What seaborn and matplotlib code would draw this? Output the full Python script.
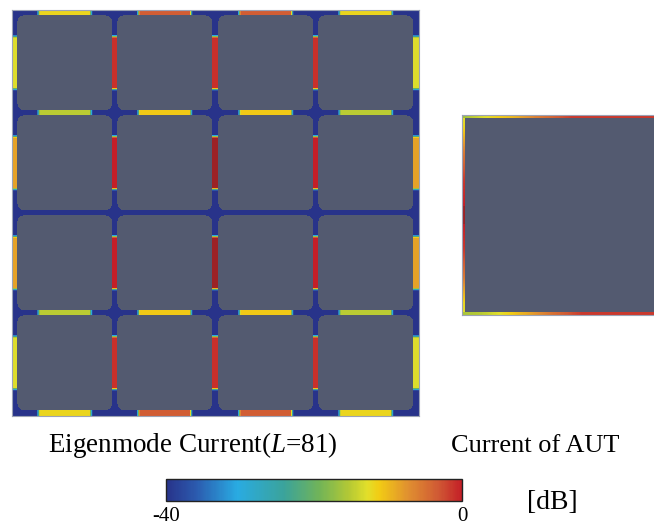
import numpy as np
import matplotlib
matplotlib.use("Agg")
import matplotlib.pyplot as plt
import seaborn as sns
from matplotlib.colors import LinearSegmentedColormap

# ---------------- data (current magnitude, dB) ----------------
# horizontal edge strips: 5 edge rows (top -> bottom) x 4 patch columns
h_edge_row0 = [-12, -3.5, -3.5, -12]
h_edge_row1 = [-15, -11, -11, -15]
h_edge_row2 = [-40, -40, -40, -40]
h_edge_row3 = [-15, -11, -11, -15]
h_edge_row4 = [-12, -3.5, -3.5, -12]
# vertical edge strips: 4 patch rows x 5 edge columns (left -> right)
v_edge_row0 = [-13, -1, -1, -1, -13]
v_edge_row1 = [-8.5, 0, 0.5, 0, -8.5]
v_edge_row2 = [-8.5, 0, 0.5, 0, -8.5]
v_edge_row3 = [-13, -1, -1, -1, -13]

# AUT edge current profiles (position along edge 0..1, dB)
aut_top_pos = [0, 0.05, 0.15, 0.25, 0.37, 0.55, 1.0]
aut_top_db = [-17, -15, -12, -10, -6, -1.5, -1.5]
aut_bottom_pos = [0, 0.10, 0.22, 0.32, 0.45, 0.60, 1.0]
aut_bottom_db = [-16, -15, -12, -9, -5, -1.5, -1.5]
aut_left_pos = [0, 0.06, 0.18, 0.32, 0.5, 0.68, 0.82, 0.94, 1.0]
aut_left_db = [-13, -12, -6, -1.5, 0.5, -1.5, -6, -12, -13]
aut_right_pos = [0, 0.06, 0.18, 0.32, 0.5, 0.68, 0.82, 0.94, 1.0]
aut_right_db = [-13, -12, -6, -1.5, 0.5, -1.5, -6, -12, -13]

db_min, db_max = -40, 0
left_title = "Eigenmode Current($L$=81)"
right_title = "Current of AUT"
unit_label = "[dB]"
cbar_ticks = [-40, 0]
cbar_ticklabels = ["-40", "0"]

# ---------------- styling ----------------
cmap_pos = [0.0, 0.10, 0.24, 0.40, 0.52, 0.62, 0.68, 0.72, 0.82, 0.92, 1.0]
cmap_cols = ["#28338a", "#2b5aae", "#29abe2", "#3ba39a", "#72b457", "#b5c934",
             "#e2df2a", "#f2cc14", "#e08f30", "#d05a34", "#c41f27"]
cmap = LinearSegmentedColormap.from_list("cem", list(zip(cmap_pos, cmap_cols)))
cmap.set_over("#9c2226")
patch_gray = "#535a70"

plt.rcParams["font.family"] = ["Liberation Serif", "DejaVu Serif"]
plt.rcParams["mathtext.fontset"] = "custom"
plt.rcParams["mathtext.rm"] = "Liberation Serif"
plt.rcParams["mathtext.it"] = "Liberation Serif:italic"

W, H = 654, 528
fig = plt.figure(figsize=(W / 100, H / 100), dpi=100)

def frac_rect(x0, y0, w, h):
    return [x0 / W, 1 - (y0 + h) / H, w / W, h / H]

# ---------------- left panel: 4x4 array ----------------
h_edges = [h_edge_row0, h_edge_row1, h_edge_row2, h_edge_row3, h_edge_row4]
v_edges = [v_edge_row0, v_edge_row1, v_edge_row2, v_edge_row3]

N = 406
m, P, pitch, rad = 5.5, 94.5, 100.0, 6.0
half, ramp = 28.0, 3.0
cc = np.arange(N) + 0.5
X, Y = np.meshgrid(cc, cc)
starts = m + pitch * np.arange(4)
ends = starts + P
centers = (starts + ends) / 2

def in_rounded(X, Y, x0, x1, y0, y1, r):
    dx = np.maximum(np.maximum(x0 + r - X, X - (x1 - r)), 0)
    dy = np.maximum(np.maximum(y0 + r - Y, Y - (y1 - r)), 0)
    box = (X >= x0) & (X <= x1) & (Y >= y0) & (Y <= y1)
    return box & (dx ** 2 + dy ** 2 <= r ** 2)

grid = np.full((N, N), float(db_min))
mask = np.zeros((N, N), bool)
for i in range(4):
    for j in range(4):
        mask |= in_rounded(X, Y, starts[j], ends[j], starts[i], ends[i], rad)

band_lo = [0] + list(ends)
band_hi = list(starts) + [N]
for k in range(5):
    for j in range(4):
        v = h_edges[k][j]
        d = half - np.abs(X - centers[j])
        sel = (Y >= band_lo[k]) & (Y <= band_hi[k]) & (d > 0)
        w = np.clip(d / ramp, 0, 1)
        grid[sel] = (db_min + (v - db_min) * w)[sel]
for i in range(4):
    for k in range(5):
        v = v_edges[i][k]
        d = half - np.abs(Y - centers[i])
        sel = (X >= band_lo[k]) & (X <= band_hi[k]) & (d > 0)
        w = np.clip(d / ramp, 0, 1)
        grid[sel] = (db_min + (v - db_min) * w)[sel]

ax1 = fig.add_axes(frac_rect(12, 10, 407, 406))
ax1.set_facecolor(patch_gray)
sns.heatmap(grid, mask=mask, cmap=cmap, vmin=db_min, vmax=db_max, cbar=False,
            ax=ax1, xticklabels=False, yticklabels=False, rasterized=True)
for s in ax1.spines.values():
    s.set_visible(True)
    s.set_color("#9ca3b5")
    s.set_linewidth(0.8)

# ---------------- right panel: AUT ----------------
N2 = 200
t = 3.5
c2 = np.arange(N2) + 0.5
X2, Y2 = np.meshgrid(c2, c2)
g2 = np.full((N2, N2), np.nan)
left_sel = X2 < t
right_sel = X2 > N2 - t
top_sel = Y2 < t
bot_sel = Y2 > N2 - t
g2[left_sel] = np.interp(Y2[left_sel] / N2, aut_left_pos, aut_left_db)
g2[right_sel] = np.interp(Y2[right_sel] / N2, aut_right_pos, aut_right_db)
g2[top_sel] = np.interp(X2[top_sel] / N2, aut_top_pos, aut_top_db)
g2[bot_sel] = np.interp(X2[bot_sel] / N2, aut_bottom_pos, aut_bottom_db)
mask2 = np.isnan(g2)

ax2 = fig.add_axes(frac_rect(462, 115, 200, 200))
ax2.set_facecolor(patch_gray)
sns.heatmap(g2, mask=mask2, cmap=cmap, vmin=db_min, vmax=db_max, cbar=False,
            ax=ax2, xticklabels=False, yticklabels=False, rasterized=True)
for s in ax2.spines.values():
    s.set_visible(True)
    s.set_color("#9ca3b5")
    s.set_linewidth(0.8)

# ---------------- texts ----------------
fig.text(193 / W, 1 - 452 / H, left_title, ha="center", va="baseline", fontsize=19.5)
fig.text(535 / W, 1 - 452 / H, right_title, ha="center", va="baseline", fontsize=19)
fig.text(552 / W, 1 - 509 / H, unit_label, ha="center", va="baseline", fontsize=20)

# ---------------- colorbar ----------------
cax = fig.add_axes(frac_rect(166, 479, 296, 22))
cb = fig.colorbar(ax1.collections[0], cax=cax, orientation="horizontal", ticks=cbar_ticks)
cb.ax.set_xticklabels(cbar_ticklabels)
cb.ax.tick_params(length=0, pad=4)
for lab in cb.ax.get_xticklabels():
    lab.set_fontsize(15)
cb.outline.set_linewidth(1.0)
cb.outline.set_edgecolor("#222222")

fig.savefig("out.png", dpi=100)
